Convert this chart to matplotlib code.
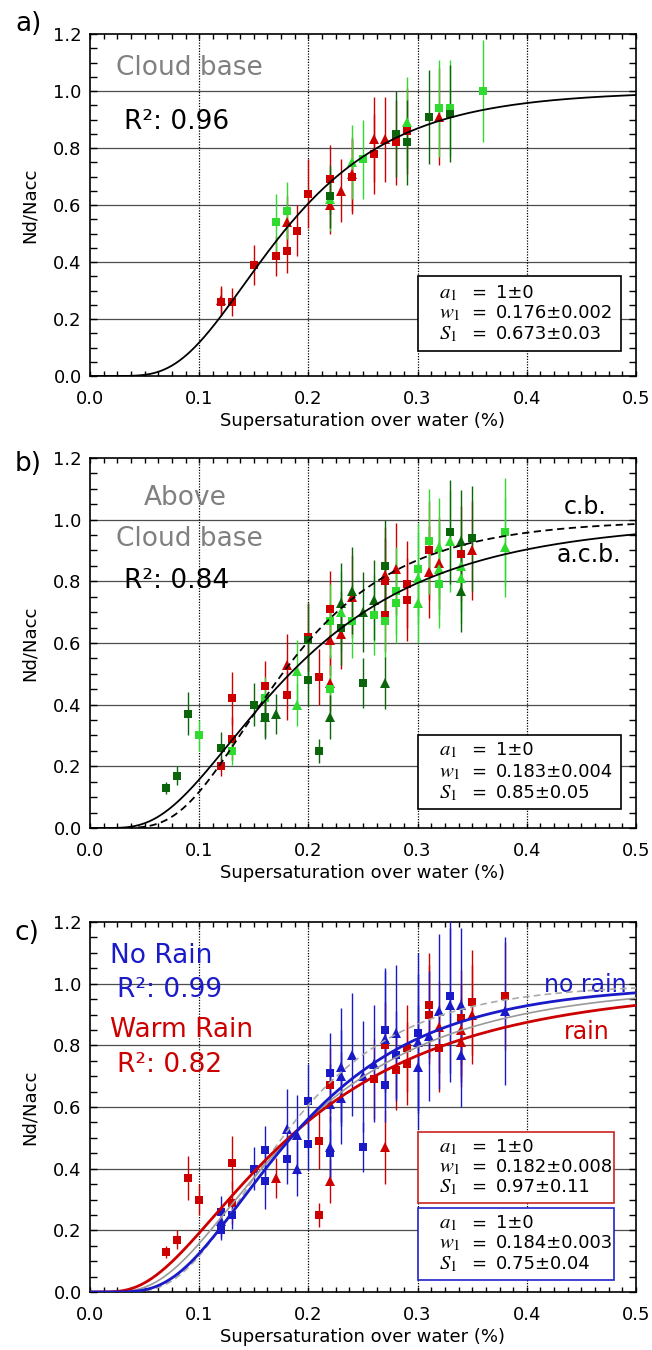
import math
import numpy as np
import matplotlib
matplotlib.use("Agg")
import matplotlib.pyplot as plt
from matplotlib.ticker import MultipleLocator, FormatStrFormatter
from matplotlib.patches import Rectangle

plt.rcParams['font.family'] = ['DejaVu Sans']
plt.rcParams['mathtext.fontset'] = 'stix'

RED = '#cc0000'
LGREEN = '#2edb2e'
DGREEN = '#0b650b'
BLUE = '#1a1ac8'
GRAY = '#808080'

# fit parameters (a1, w1, S1)
fit_cb = (1.0, 0.176, 0.673)      # cloud base
fit_acb = (1.0, 0.183, 0.85)      # above cloud base
fit_rain = (1.0, 0.182, 0.97)     # warm rain
fit_norain = (1.0, 0.184, 0.75)   # no rain

# ---- panel a: cloud base ----
a_red_sq_x = [0.12, 0.13, 0.15, 0.17, 0.18, 0.19, 0.20, 0.22, 0.24, 0.26, 0.28, 0.29]
a_red_sq_y = [0.26, 0.26, 0.39, 0.42, 0.44, 0.51, 0.64, 0.69, 0.70, 0.78, 0.82, 0.86]
a_red_sq_e = [0.05, 0.05, 0.07, 0.07, 0.08, 0.09, 0.12, 0.12, 0.13, 0.14, 0.15, 0.15]
a_red_tr_x = [0.12, 0.18, 0.22, 0.23, 0.24, 0.26, 0.27, 0.32]
a_red_tr_y = [0.265, 0.54, 0.60, 0.65, 0.71, 0.83, 0.83, 0.91]
a_red_tr_e = [0.05, 0.09, 0.10, 0.11, 0.13, 0.15, 0.15, 0.17]
a_lg_sq_x = [0.17, 0.18, 0.25, 0.32, 0.33, 0.36]
a_lg_sq_y = [0.54, 0.58, 0.76, 0.94, 0.94, 1.00]
a_lg_sq_e = [0.10, 0.10, 0.14, 0.17, 0.17, 0.18]
a_lg_tr_x = [0.22, 0.24, 0.29]
a_lg_tr_y = [0.62, 0.75, 0.89]
a_lg_tr_e = [0.11, 0.13, 0.16]
a_dg_sq_x = [0.22, 0.28, 0.29, 0.31, 0.33]
a_dg_sq_y = [0.63, 0.85, 0.82, 0.91, 0.92]
a_dg_sq_e = [0.11, 0.15, 0.15, 0.165, 0.17]

# ---- panel b: above cloud base ----
b_dg_sq_x = [0.07, 0.08, 0.09, 0.12, 0.15, 0.16, 0.20, 0.20, 0.21, 0.23, 0.25, 0.27, 0.33, 0.35]
b_dg_sq_y = [0.13, 0.17, 0.37, 0.26, 0.40, 0.36, 0.61, 0.48, 0.25, 0.65, 0.47, 0.85, 0.96, 0.94]
b_dg_sq_e = [0.02, 0.03, 0.07, 0.05, 0.07, 0.07, 0.12, 0.085, 0.04, 0.12, 0.08, 0.15, 0.17, 0.17]
b_dg_tr_x = [0.16, 0.17, 0.22, 0.23, 0.24, 0.25, 0.26, 0.27, 0.34, 0.34]
b_dg_tr_y = [0.36, 0.37, 0.36, 0.73, 0.77, 0.70, 0.74, 0.47, 0.93, 0.77]
b_dg_tr_e = [0.065, 0.065, 0.07, 0.13, 0.14, 0.13, 0.13, 0.085, 0.165, 0.135]
b_lg_sq_x = [0.10, 0.13, 0.16, 0.22, 0.22, 0.24, 0.26, 0.27, 0.28, 0.28, 0.30, 0.31, 0.32, 0.38]
b_lg_sq_y = [0.30, 0.25, 0.42, 0.67, 0.45, 0.67, 0.69, 0.67, 0.77, 0.73, 0.84, 0.93, 0.79, 0.96]
b_lg_sq_e = [0.05, 0.045, 0.07, 0.12, 0.08, 0.12, 0.13, 0.12, 0.14, 0.13, 0.15, 0.17, 0.14, 0.175]
b_lg_tr_x = [0.19, 0.19, 0.23, 0.30, 0.30, 0.32, 0.32, 0.33, 0.34, 0.34, 0.38]
b_lg_tr_y = [0.51, 0.40, 0.70, 0.81, 0.73, 0.91, 0.84, 0.93, 0.85, 0.81, 0.91]
b_lg_tr_e = [0.10, 0.07, 0.13, 0.15, 0.13, 0.16, 0.15, 0.165, 0.15, 0.145, 0.16]
b_red_sq_x = [0.12, 0.13, 0.13, 0.16, 0.18, 0.20, 0.21, 0.22, 0.27, 0.27, 0.29, 0.29, 0.31, 0.34]
b_red_sq_y = [0.20, 0.42, 0.29, 0.46, 0.43, 0.62, 0.49, 0.71, 0.80, 0.69, 0.79, 0.74, 0.90, 0.89]
b_red_sq_e = [0.03, 0.085, 0.07, 0.08, 0.08, 0.11, 0.09, 0.125, 0.14, 0.12, 0.14, 0.135, 0.16, 0.155]
b_red_tr_x = [0.18, 0.22, 0.22, 0.23, 0.24, 0.27, 0.28, 0.31, 0.32, 0.35]
b_red_tr_y = [0.53, 0.61, 0.47, 0.63, 0.75, 0.82, 0.84, 0.83, 0.86, 0.90]
b_red_tr_e = [0.10, 0.115, 0.09, 0.115, 0.135, 0.155, 0.15, 0.15, 0.15, 0.16]

# ---- panel c: rain / no rain ----
c_red_sq_x = [0.07, 0.08, 0.09, 0.10, 0.13, 0.13, 0.21, 0.21, 0.22, 0.26, 0.27, 0.28, 0.29, 0.29,
              0.31, 0.31, 0.32, 0.34, 0.35, 0.38]
c_red_sq_y = [0.13, 0.17, 0.37, 0.30, 0.42, 0.29, 0.49, 0.25, 0.67, 0.69, 0.80, 0.72, 0.79, 0.74,
              0.90, 0.93, 0.79, 0.89, 0.94, 0.96]
c_red_sq_e = [0.02, 0.03, 0.07, 0.05, 0.085, 0.07, 0.09, 0.04, 0.12, 0.13, 0.14, 0.13, 0.14, 0.135,
              0.16, 0.17, 0.14, 0.155, 0.17, 0.175]
c_red_tr_x = [0.17, 0.22, 0.27, 0.32, 0.34, 0.34, 0.35]
c_red_tr_y = [0.37, 0.36, 0.47, 0.86, 0.85, 0.81, 0.90]
c_red_tr_e = [0.065, 0.07, 0.12, 0.15, 0.15, 0.145, 0.16]
c_blue_sq_x = [0.12, 0.12, 0.13, 0.15, 0.16, 0.16, 0.18, 0.20, 0.20, 0.22, 0.22, 0.25, 0.27, 0.27,
               0.28, 0.30, 0.33]
c_blue_sq_y = [0.20, 0.26, 0.25, 0.40, 0.46, 0.36, 0.43, 0.62, 0.48, 0.71, 0.45, 0.47, 0.85, 0.67,
               0.77, 0.84, 0.96]
c_blue_sq_e = [0.03, 0.05, 0.045, 0.07, 0.08, 0.09, 0.08, 0.12, 0.085, 0.13, 0.08, 0.08, 0.20, 0.12,
               0.14, 0.26, 0.25]
c_blue_tr_x = [0.12, 0.18, 0.19, 0.19, 0.22, 0.22, 0.23, 0.23, 0.23, 0.24, 0.25, 0.26, 0.27, 0.28,
               0.30, 0.30, 0.31, 0.32, 0.33, 0.34, 0.34, 0.38]
c_blue_tr_y = [0.23, 0.53, 0.51, 0.40, 0.61, 0.47, 0.73, 0.70, 0.63, 0.77, 0.70, 0.74, 0.82, 0.84,
               0.81, 0.73, 0.83, 0.91, 0.93, 0.93, 0.77, 0.91]
c_blue_tr_e = [0.05, 0.13, 0.13, 0.09, 0.13, 0.10, 0.19, 0.15, 0.15, 0.20, 0.18, 0.19, 0.22, 0.22,
               0.22, 0.20, 0.21, 0.25, 0.25, 0.25, 0.17, 0.24]

erf = np.vectorize(math.erf)


def activation(s, a, w, S):
    return a / 2.0 * (1.0 + erf(np.log(s / w) / S))


def points(ax, x, y, e, color, marker):
    ms = 6.3 if marker == 's' else 7.8
    ax.errorbar(x, y, yerr=e, fmt=marker, color=color, ms=ms, mew=0,
                elinewidth=1, capsize=3.2, capthick=1, zorder=3)


def setup(ax):
    ax.set_xlim(0, 0.5)
    ax.set_ylim(0, 1.2)
    ax.xaxis.set_major_locator(MultipleLocator(0.1))
    ax.xaxis.set_minor_locator(MultipleLocator(0.0125))
    ax.yaxis.set_major_locator(MultipleLocator(0.2))
    ax.yaxis.set_minor_locator(MultipleLocator(0.05))
    ax.xaxis.set_major_formatter(FormatStrFormatter('%.1f'))
    ax.yaxis.set_major_formatter(FormatStrFormatter('%.1f'))
    ax.tick_params(which='both', direction='in', top=True, right=True, width=1)
    ax.tick_params(axis='x', which='both', length=3.6, labelsize=13, pad=10)
    ax.tick_params(axis='y', which='both', length=5, labelsize=13, pad=6)
    for sp in ax.spines.values():
        sp.set_linewidth(1.2)
    for yv in [0.2, 0.4, 0.6, 0.8, 1.0]:
        ax.axhline(yv, color='0.3', lw=0.9, zorder=1)
    for xv in [0.1, 0.2, 0.3, 0.4]:
        ax.axvline(xv, color='k', lw=0.9, ls=(0, (1, 1.2)), zorder=1)
    ax.set_xlabel('Supersaturation over water (%)', fontsize=13, labelpad=3)
    ax.set_ylabel('Nd/Nacc', fontsize=13, labelpad=10)


def fitbox(ax, x0, x1, y0, y1, ys, fit_text, edge):
    ax.add_patch(Rectangle((x0, y0), x1 - x0, y1 - y0, facecolor='white',
                           edgecolor=edge, lw=1.2, zorder=6))
    names = [r'$a_1$', r'$w_1$', r'$S_1$']
    for yy, name, val in zip(ys, names, fit_text):
        ax.text(0.320, yy, name, fontsize=15, va='center', ha='left', zorder=7)
        ax.text(0.349, yy, '=', fontsize=13, va='center', ha='left', zorder=7)
        ax.text(0.372, yy, val, fontsize=13, va='center', ha='left', zorder=7)


fig = plt.figure(figsize=(6.52, 13.5), dpi=100)
W, H = 652.0, 1350.0
L, R = 90, 636
ax_a = fig.add_axes([L / W, 1 - 376 / H, (R - L) / W, 342 / H])
ax_b = fig.add_axes([L / W, 1 - 828 / H, (R - L) / W, 370 / H])
ax_c = fig.add_axes([L / W, 1 - 1292 / H, (R - L) / W, 370 / H])

s = np.linspace(0.001, 0.5, 600)

# panel a
setup(ax_a)
points(ax_a, a_red_sq_x, a_red_sq_y, a_red_sq_e, RED, 's')
points(ax_a, a_red_tr_x, a_red_tr_y, a_red_tr_e, RED, '^')
points(ax_a, a_lg_sq_x, a_lg_sq_y, a_lg_sq_e, LGREEN, 's')
points(ax_a, a_lg_tr_x, a_lg_tr_y, a_lg_tr_e, LGREEN, '^')
points(ax_a, a_dg_sq_x, a_dg_sq_y, a_dg_sq_e, DGREEN, 's')
ax_a.plot(s, activation(s, *fit_cb), color='k', lw=1.3, zorder=5)
ax_a.text(0.024, 1.08, 'Cloud base', color=GRAY, fontsize=19, va='center')
ax_a.text(0.031, 0.892, 'R²: 0.96', color='k', fontsize=19, va='center')
fitbox(ax_a, 0.300, 0.486, 0.088, 0.351, [0.291, 0.221, 0.147],
       ['1±0', '0.176±0.002', '0.673±0.03'], 'k')

# panel b
setup(ax_b)
points(ax_b, b_red_sq_x, b_red_sq_y, b_red_sq_e, RED, 's')
points(ax_b, b_red_tr_x, b_red_tr_y, b_red_tr_e, RED, '^')
points(ax_b, b_lg_sq_x, b_lg_sq_y, b_lg_sq_e, LGREEN, 's')
points(ax_b, b_lg_tr_x, b_lg_tr_y, b_lg_tr_e, LGREEN, '^')
points(ax_b, b_dg_sq_x, b_dg_sq_y, b_dg_sq_e, DGREEN, 's')
points(ax_b, b_dg_tr_x, b_dg_tr_y, b_dg_tr_e, DGREEN, '^')
ax_b.plot(s, activation(s, *fit_cb), color='k', lw=1.3, ls=(0, (4, 2.5)), zorder=5)
ax_b.plot(s, activation(s, *fit_acb), color='k', lw=1.3, zorder=5)
ax_b.text(0.049, 1.069, 'Above', color=GRAY, fontsize=19, va='center')
ax_b.text(0.024, 0.936, 'Cloud base', color=GRAY, fontsize=19, va='center')
ax_b.text(0.031, 0.802, 'R²: 0.84', color='k', fontsize=19, va='center')
ax_b.text(0.453, 1.042, 'c.b.', color='k', fontsize=17, va='center', ha='center')
ax_b.text(0.457, 0.885, 'a.c.b.', color='k', fontsize=17, va='center', ha='center')
fitbox(ax_b, 0.300, 0.486, 0.062, 0.302, [0.253, 0.183, 0.115],
       ['1±0', '0.183±0.004', '0.85±0.05'], 'k')

# panel c
setup(ax_c)
points(ax_c, c_red_sq_x, c_red_sq_y, c_red_sq_e, RED, 's')
points(ax_c, c_red_tr_x, c_red_tr_y, c_red_tr_e, RED, '^')
points(ax_c, c_blue_sq_x, c_blue_sq_y, c_blue_sq_e, BLUE, 's')
points(ax_c, c_blue_tr_x, c_blue_tr_y, c_blue_tr_e, BLUE, '^')
ax_c.plot(s, activation(s, *fit_cb), color='#aaaaaa', lw=1.2, ls=(0, (4, 2.5)), zorder=4)
ax_c.plot(s, activation(s, *fit_acb), color='#999999', lw=1.2, zorder=4)
ax_c.plot(s, activation(s, *fit_rain), color=RED, lw=2, zorder=5)
ax_c.plot(s, activation(s, *fit_norain), color=BLUE, lw=2, zorder=5)
ax_c.text(0.0187, 1.090, 'No Rain', color=BLUE, fontsize=19, va='center')
ax_c.text(0.0244, 0.979, 'R²: 0.99', color=BLUE, fontsize=19, va='center')
ax_c.text(0.0187, 0.850, 'Warm Rain', color=RED, fontsize=19, va='center')
ax_c.text(0.0244, 0.736, 'R²: 0.82', color=RED, fontsize=19, va='center')
ax_c.text(0.4535, 0.996, 'no rain', color=BLUE, fontsize=17, va='center', ha='center')
ax_c.text(0.4545, 0.844, 'rain', color=RED, fontsize=17, va='center', ha='center')
fitbox(ax_c, 0.300, 0.480, 0.288, 0.518, [0.471, 0.406, 0.342],
       ['1±0', '0.182±0.008', '0.97±0.11'], '#cc2222')
fitbox(ax_c, 0.300, 0.480, 0.039, 0.271, [0.223, 0.158, 0.091],
       ['1±0', '0.184±0.003', '0.75±0.04'], '#2222cc')

# panel letters
fig.text(15 / W, 1 - 24 / H, 'a)', fontsize=19, va='center', ha='left')
fig.text(15 / W, 1 - 464 / H, 'b)', fontsize=19, va='center', ha='left')
fig.text(15 / W, 1 - 933 / H, 'c)', fontsize=19, va='center', ha='left')

fig.savefig('out.png', dpi=100)
